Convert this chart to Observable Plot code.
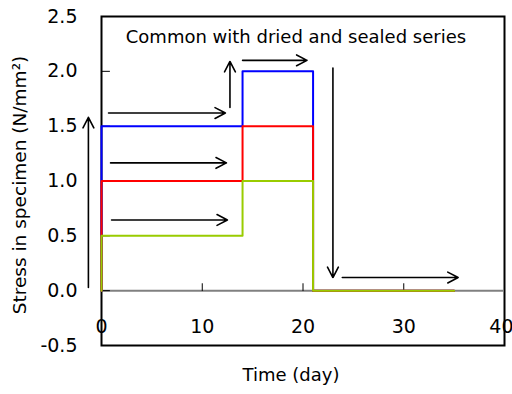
<!DOCTYPE html>
<html>
<head>
<meta charset="utf-8">
<script src="https://cdn.jsdelivr.net/npm/d3@7"></script>
<script src="https://cdn.jsdelivr.net/npm/@observablehq/plot@0.6"></script>
<style>
  body { margin: 0; background: #fff; }
</style>
</head>
<body>
<div id="chart"></div>
<script>
// Data
const times = [0, 0, 14, 21, 35];
const seriesNames = ["high", "mid", "low"];
const seriesColors = ["#0000FF", "#FF0000", "#99CC00"];
const stressHigh = [0, 1.5, 2.0, 0, 0];
const stressMid = [0, 1.0, 1.5, 0, 0];
const stressLow = [0, 0.5, 1.0, 0, 0];
const xTicks = [0, 10, 20, 30, 40];
const yTicks = [-0.5, 0, 0.5, 1.0, 1.5, 2.0, 2.5];
const noteText = "Common with dried and sealed series";
const noteX = [19.3];
const noteY = [2.31];
// arrows: [x1, y1, x2, y2]
const arrowX1 = [-1.3, 0.7, 0.9, 1.0, 12.75, 14.0, 22.97, 23.9];
const arrowY1 = [0.03, 1.62, 1.165, 0.645, 1.67, 2.10, 2.03, 0.12];
const arrowX2 = [-1.3, 12.3, 12.4, 12.5, 12.75, 20.4, 22.97, 35.4];
const arrowY2 = [1.58, 1.62, 1.165, 0.645, 2.09, 2.10, 0.12, 0.12];

const allStress = [stressHigh, stressMid, stressLow];
const lineData = [];
seriesNames.forEach((s, i) => {
  times.forEach((t, j) => lineData.push({series: s, t, v: allStress[i][j]}));
});
const arrows = arrowX1.map((x, i) => ({x1: x, y1: arrowY1[i], x2: arrowX2[i], y2: arrowY2[i]}));

const tickShape = {draw(context, l) { context.moveTo(0, 0); context.lineTo(0, -l); }};

const chart = Plot.plot({
  width: 512,
  height: 394,
  marginLeft: 101,
  marginRight: 8,
  marginTop: 16,
  marginBottom: 49,
  style: {fontFamily: "DejaVu Sans", fontSize: "18px", background: "#fff", color: "#000"},
  x: {domain: [0, 40], axis: null},
  y: {domain: [-0.5, 2.5], axis: null},
  color: {domain: seriesNames, range: seriesColors},
  marks: [
    // frame
    Plot.frame({stroke: "#000", strokeWidth: 2}),
    // zero line
    Plot.ruleY([0], {x1: 0, x2: 40, stroke: "#808080", strokeWidth: 2}),
    // x ticks at zero line (pointing up)
    Plot.vector(xTicks, {x: d => d, y: 0, length: 7, rotate: 0, anchor: "start", shape: tickShape, stroke: "#000", strokeWidth: 1}),
    // y ticks (pointing inward)
    Plot.vector(yTicks, {x: 0, y: d => d, length: 8, rotate: 90, anchor: "start", shape: tickShape, stroke: "#000", strokeWidth: 1}),
    // series
    Plot.line(lineData, {x: "t", y: "v", z: "series", stroke: "series", curve: "step-after", strokeWidth: 2}),
    // y tick labels
    Plot.text(yTicks, {x: 0, y: d => d, text: d => d.toFixed(1), textAnchor: "end", dx: -24, fill: "#000", fontSize: 19}),
    // x tick labels
    Plot.text(xTicks.slice(0, -1), {x: d => d, y: 0, text: d => String(d), dy: 36, fill: "#000", fontSize: 19}),
    Plot.text(xTicks.slice(-1), {x: d => d, y: 0, text: d => String(d), dy: 36, dx: 9, textAnchor: "end", fill: "#000", fontSize: 19}),
    // arrows
    Plot.arrow(arrows, {x1: "x1", y1: "y1", x2: "x2", y2: "y2", stroke: "#000", strokeWidth: 1.6, headLength: 11, headAngle: 55}),
    // note
    Plot.text([noteText], {x: noteX, y: noteY, text: d => d, fill: "#000"}),
    // axis titles
    Plot.text(["Time (day)"], {frameAnchor: "bottom", lineAnchor: "middle", textAnchor: "middle", dx: -12, dy: 30, text: d => d, fill: "#000"}),
    Plot.text(["Stress in specimen (N/mm²)"], {frameAnchor: "left", textAnchor: "middle", lineAnchor: "middle", dx: -81, dy: 4, rotate: -90, text: d => d, fill: "#000", fontSize: 18.5})
  ]
});
document.getElementById("chart").appendChild(chart);
</script>
</body>
</html>
